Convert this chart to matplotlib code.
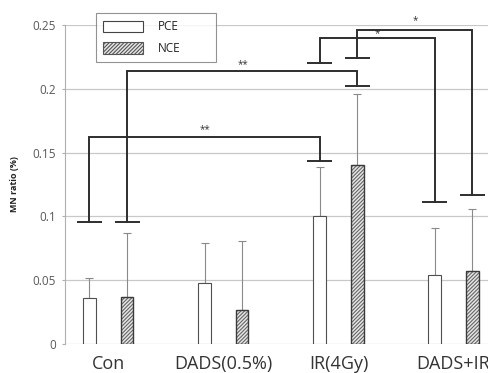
import matplotlib
matplotlib.use("Agg")
import matplotlib.pyplot as plt
import numpy as np
from matplotlib.patches import Patch

# ---- data ----
categories = ["Con", "DADS(0.5%)", "IR(4Gy)", "DADS+IR"]
series = ["PCE", "NCE"]
pce_mean = [0.036, 0.048, 0.100, 0.054]
pce_err = [0.016, 0.031, 0.0385, 0.037]
nce_mean = [0.037, 0.027, 0.140, 0.0575]
nce_err = [0.050, 0.054, 0.056, 0.0485]
yticks = [0, 0.05, 0.1, 0.15, 0.2, 0.25]
ytick_labels = ["0", "0.05", "0.1", "0.15", "0.2", "0.25"]

# significance brackets: (group_a, series_a, foot_a, group_b, series_b, foot_b, top, label, label_y)
brackets = [
    (0, 0, 0.0954, 2, 0, 0.1434, 0.1625, "**", 0.1680),
    (0, 1, 0.0954, 2, 1, 0.2022, 0.2142, "**", 0.2186),
    (2, 0, 0.2205, 3, 0, 0.1115, 0.2396, "*", 0.2435),
    (2, 1, 0.2240, 3, 1, 0.1168, 0.2457, "*", 0.2534),
]

plt.rcParams['font.family'] = ['Open Sans', 'DejaVu Sans']
plt.rcParams['hatch.linewidth'] = 0.8

W, H = 489, 373
fig = plt.figure(figsize=(W / 100, H / 100), dpi=100)
ax = fig.add_axes([65 / W, (H - 344) / H, 1 - 65 / W, (344 - 25) / H])

x = np.arange(len(categories))
off = 0.165
bw = 0.105
edge = "#3a3a3a"
hatch_col = "#666666"
HATCH = "/" * 9

ax.bar(x - off, pce_mean, bw, color="white", edgecolor="#505050", linewidth=0.8, zorder=3)
ax.bar(x + off, nce_mean, bw, color="#e6e6e6", edgecolor=hatch_col, linewidth=0,
       hatch=HATCH, zorder=3)
ax.bar(x + off, nce_mean, bw, color="none", edgecolor=edge, linewidth=1.0, zorder=3.5)
ax.errorbar(x - off, pce_mean, yerr=[np.zeros(4), pce_err], fmt="none",
            ecolor="#8a8a8a", elinewidth=0.8, capsize=3, capthick=0.8, zorder=2)
ax.errorbar(x + off, nce_mean, yerr=[np.zeros(4), nce_err], fmt="none",
            ecolor="#8a8a8a", elinewidth=0.8, capsize=3, capthick=0.8, zorder=2)

# brackets
bc = "#2e2e2e"
capw = 0.11
for ga, sa, fa, gb, sb, fb, top, lab, ly in brackets:
    xa = x[ga] + (off if sa else -off)
    xb = x[gb] + (off if sb else -off)
    for xx, ff in ((xa, fa), (xb, fb)):
        ax.plot([xx - capw, xx + capw], [ff, ff], color=bc, lw=1.4,
                solid_capstyle="butt", clip_on=False, zorder=4)
    ax.plot([xa, xa, xb, xb], [fa, top, top, fb], color=bc, lw=1.4,
            solid_joinstyle="miter", clip_on=False, zorder=4)
    ax.text((xa + xb) / 2, ly, lab, ha="center", va="center", fontsize=7,
            color="#333333", clip_on=False)

ax.set_xlim(-0.378, (W - 108.5) / 115)
ax.set_ylim(0, 0.25)
ax.set_yticks(yticks)
ax.set_yticklabels(ytick_labels, fontsize=8.5, color="#595959")
ax.set_xticks(x)
ax.set_xticklabels(categories, fontsize=13, color="#333333")
ax.tick_params(axis="x", length=0, pad=8)
ax.tick_params(axis="y", length=2.5, color="#b0b0b0", pad=4)
ax.yaxis.grid(True, color="#c8c8c8", lw=0.9, zorder=0)
ax.set_axisbelow(True)
for s in ("top", "right", "bottom"):
    ax.spines[s].set_visible(False)
ax.spines["left"].set_color("#b0b0b0")
ax.set_ylabel("MN ratio (%)", fontsize=6.5, fontweight="bold", color="#222222", labelpad=10)

handles = [Patch(facecolor="white", edgecolor="#444444", linewidth=0.8),
           Patch(facecolor="#e6e6e6", edgecolor="#555555", linewidth=0.8, hatch=HATCH)]
leg = fig.legend(handles, series, loc="upper left",
                 bbox_to_anchor=(95.7 / W, (H - 13.3) / H, 120 / W, 0), mode="expand",
                 fontsize=8.5, frameon=True, fancybox=False, edgecolor="#777777",
                 handlelength=3.4, handleheight=1.15, handletextpad=1.3,
                 labelspacing=0.75, borderpad=0.6, borderaxespad=0)
leg.get_frame().set_linewidth(0.8)
for t in leg.get_texts():
    t.set_color("#222222")

fig.savefig("out.png", dpi=100)
